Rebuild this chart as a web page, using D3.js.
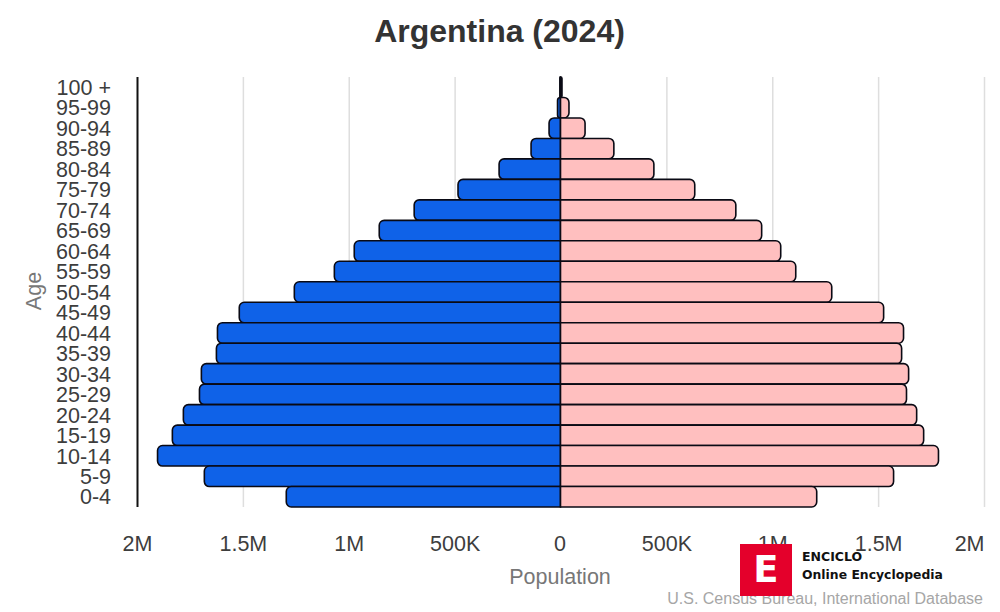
<!DOCTYPE html>
<html>
<head>
<meta charset="utf-8">
<script src="https://cdn.jsdelivr.net/npm/d3@7"></script>
<style>
  html, body { margin: 0; padding: 0; background: #fff; }
  svg { display: block; font-family: "Liberation Sans", Arial, sans-serif; }
  .tick text { fill: #3d3d3d; font-size: 21.5px; }
  .domain { display: none; }
</style>
</head>
<body>
<svg id="chart" width="1000" height="612"></svg>
<script>
const ages = ["100 +", "95-99", "90-94", "85-89", "80-84", "75-79", "70-74", "65-69", "60-64", "55-59", "50-54",
              "45-49", "40-44", "35-39", "30-34", "25-29", "20-24", "15-19", "10-14", "5-9", "0-4"];
const male = [3000, 14000, 54000, 139000, 290000, 484000, 691000, 856000, 974000, 1068000, 1257000,
              1517000, 1620000, 1625000, 1696000, 1705000, 1781000, 1833000, 1903000, 1682000, 1295000];
const female = [7000, 40000, 116000, 252000, 441000, 634000, 828000, 950000, 1040000, 1111000, 1281000,
                1526000, 1620000, 1611000, 1644000, 1634000, 1682000, 1715000, 1785000, 1573000, 1210000];
const xTicks = [-2000000, -1500000, -1000000, -500000, 0, 500000, 1000000, 1500000, 2000000];

const svg = d3.select("#chart");
const x = d3.scaleLinear().domain([-2000000, 2000000]).range([137, 984]);
const y = d3.scaleBand().domain(ages).range([77, 507]);

const fmt = v => {
  const a = Math.abs(v);
  if (a >= 1000000) return (a / 1000000) + "M";
  if (a >= 1000) return (a / 1000) + "K";
  return "0";
};

// gridlines and x labels
const xAxis = svg.append("g")
  .attr("transform", "translate(0,507)")
  .call(d3.axisBottom(x).tickValues(xTicks).tickFormat(fmt).tickSize(-430).tickPadding(29));
xAxis.selectAll(".tick line")
  .attr("stroke", d => d === -2000000 ? "#111" : "#dedede")
  .attr("stroke-width", d => d === -2000000 ? 2 : 1.5);
xAxis.selectAll(".tick text").filter(d => d === 2000000)
  .attr("text-anchor", "end");
xAxis.selectAll(".tick text").filter(d => d === 0)
  .attr("dx", -1);

// age labels
const yAxis = svg.append("g")
  .attr("transform", "translate(111,0.8)")
  .call(d3.axisLeft(y).tickSize(0).tickPadding(0));

// bar with the outer corners rounded, flat at the centre
const bar = (v, side, age) => {
  const x0 = x(0), x1 = x(side * v);
  const t = y(age), b = t + y.bandwidth();
  const r = Math.min(5, Math.abs(x1 - x0));
  const s = side > 0 ? 1 : 0;
  return `M${x0},${t}L${x1 - side * r},${t}A${r},${r} 0 0 ${s} ${x1},${t + r}` +
         `L${x1},${b - r}A${r},${r} 0 0 ${s} ${x1 - side * r},${b}L${x0},${b}Z`;
};

const bars = svg.append("g").attr("stroke", "#0a0a14").attr("stroke-width", 1.6);
bars.selectAll(".male").data(ages).enter().append("path")
  .attr("class", "male")
  .attr("fill", "#0f62e8")
  .attr("d", (d, i) => bar(male[i], -1, d));
bars.selectAll(".female").data(ages).enter().append("path")
  .attr("class", "female")
  .attr("fill", "#ffbfbf")
  .attr("d", (d, i) => bar(female[i], 1, d));

svg.append("text").attr("x", 499.5).attr("y", 42)
  .attr("text-anchor", "middle").attr("font-size", 32).attr("font-weight", "bold").attr("fill", "#333")
  .text("Argentina (2024)");

svg.append("text").attr("transform", "translate(41,291) rotate(-90)")
  .attr("text-anchor", "middle").attr("font-size", 21.5).attr("fill", "#777")
  .text("Age");

svg.append("text").attr("x", 560).attr("y", 583.5)
  .attr("text-anchor", "middle").attr("font-size", 21.5).attr("fill", "#777")
  .text("Population");

svg.append("text").attr("x", 983).attr("y", 604)
  .attr("text-anchor", "end").attr("font-size", 16).attr("fill", "#a6a6a6")
  .text("U.S. Census Bureau, International Database");

// logo
const logo = svg.append("g");
logo.append("rect").attr("x", 740).attr("y", 544).attr("width", 52).attr("height", 52).attr("fill", "#e4002b");
logo.append("text").attr("x", 766).attr("y", 582)
  .attr("text-anchor", "middle").attr("font-family", "DejaVu Sans").attr("font-size", 37).attr("font-weight", "bold")
  .attr("fill", "#fff").text("E");
logo.append("text").attr("x", 802).attr("y", 561)
  .attr("font-family", "DejaVu Sans").attr("font-size", 12.5).attr("font-weight", "bold").attr("fill", "#111")
  .text("ENCICLO");
logo.append("text").attr("x", 802).attr("y", 579)
  .attr("font-family", "DejaVu Sans").attr("font-size", 12.4).attr("font-weight", "bold").attr("fill", "#111")
  .text("Online Encyclopedia");
</script>
</body>
</html>
